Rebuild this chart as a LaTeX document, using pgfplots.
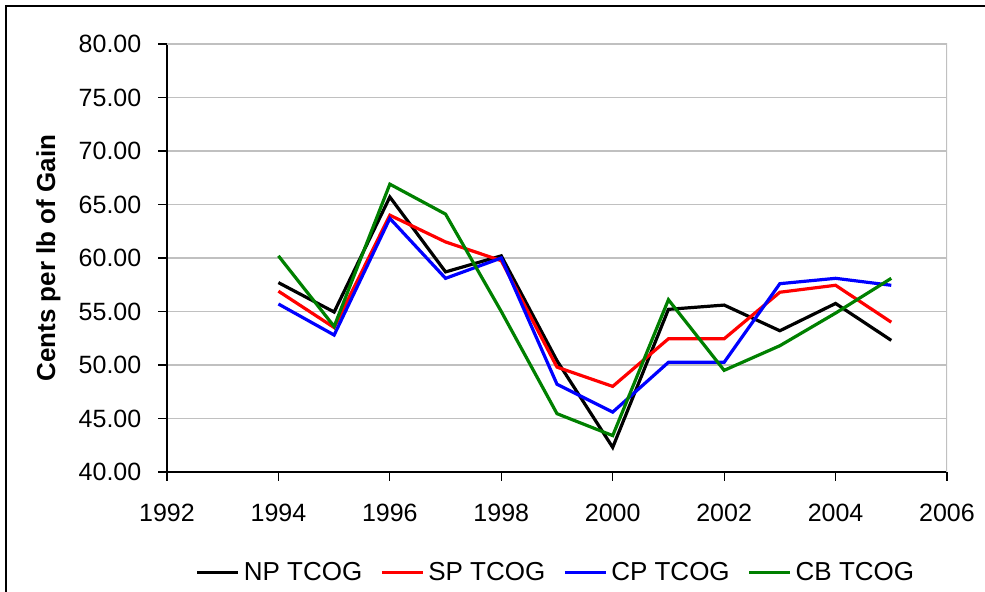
\documentclass[border=0pt]{standalone}
\usepackage{fontspec}
\setmainfont{Liberation Sans}
\usepackage{pgfplots}
\pgfplotsset{compat=1.18}
\definecolor{cbgreen}{RGB}{0,128,0}
\definecolor{gridgray}{RGB}{192,192,192}

\begin{document}
\fontsize{12.5pt}{15pt}\selectfont
\begin{tikzpicture}
\begin{axis}[
    scale only axis,
    width=390pt, height=214pt,
    xmin=1992, xmax=2006,
    ymin=40, ymax=80,
    xtick={1992,1994,...,2006},
    ytick={40,45,...,80},
    axis lines*=left,
    axis line style={black, line width=0.7pt},
    tick align=outside,
    major tick length=4.5pt,
    tick style={black, line width=0.6pt},
    ymajorgrids,
    major grid style={gridgray, line width=0.6pt},
    /pgf/number format/assume math mode=true,
    xticklabel style={/pgf/number format/1000 sep={}, yshift=-7pt},
    yticklabel style={/pgf/number format/fixed, /pgf/number format/fixed zerofill,
        /pgf/number format/precision=2, xshift=-4pt},
    ticklabel style={font=\fontsize{12.5pt}{15pt}\selectfont},
    ylabel={\bfseries Cents per lb of Gain},
    every axis y label/.style={at={(axis description cs:-0.152,0.5)}, rotate=90, anchor=center,
        font=\fontsize{13pt}{15.6pt}\selectfont},
    legend columns=-1,
    legend style={at={(0.5,-0.236)}, anchor=center, draw=none,
        font=\fontsize{13pt}{15.6pt}\selectfont,
        /tikz/every even column/.append style={column sep=7pt}},
    legend image code/.code={\draw[#1, line width=1.5pt] (0pt,0pt) -- (20.5pt,0pt);},
    every axis plot/.append style={line width=1.6pt, line join=miter, mark=none},
]
\draw[gridgray, line width=0.8pt] (rel axis cs:0,1) -- (rel axis cs:1,1) -- (rel axis cs:1,0);

\addplot[black] coordinates {
(1994,57.7) (1995,54.95) (1996,65.7) (1997,58.7) (1998,60.2) (1999,50.4)
(2000,42.3) (2001,55.2) (2002,55.6) (2003,53.2) (2004,55.75) (2005,52.3)};
\addlegendentry{NP TCOG}

\addplot[red] coordinates {
(1994,56.9) (1995,53.5) (1996,64.0) (1997,61.5) (1998,59.75) (1999,49.8)
(2000,48.0) (2001,52.45) (2002,52.45) (2003,56.8) (2004,57.45) (2005,54.0)};
\addlegendentry{SP TCOG}

\addplot[blue] coordinates {
(1994,55.7) (1995,52.8) (1996,63.7) (1997,58.1) (1998,60.0) (1999,48.2)
(2000,45.6) (2001,50.25) (2002,50.25) (2003,57.6) (2004,58.1) (2005,57.45)};
\addlegendentry{CP TCOG}

\addplot[cbgreen] coordinates {
(1994,60.2) (1995,53.6) (1996,66.9) (1997,64.1) (1998,55.0) (1999,45.45)
(2000,43.4) (2001,56.1) (2002,49.5) (2003,51.8) (2004,54.85) (2005,58.1)};
\addlegendentry{CB TCOG}
\end{axis}
\useasboundingbox (-83.5pt,-60pt) rectangle (409pt,236pt);
\draw[black, line width=1pt] (-80.5pt,-60pt) -- (-80.5pt,233pt) -- (409pt,233pt);
\end{tikzpicture}
\end{document}
